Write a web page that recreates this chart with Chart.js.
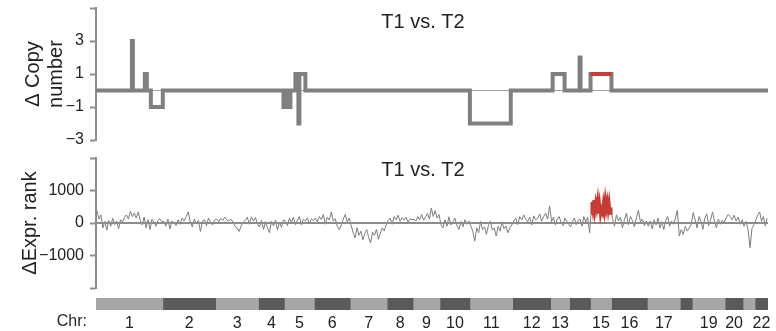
<!DOCTYPE html>
<html>
<head>
<meta charset="utf-8">
<script src="https://cdn.jsdelivr.net/npm/chart.js@4.4.1/dist/chart.umd.min.js"></script>
<style>
  body { margin: 0; background: #fff; }
  canvas { position: absolute; left: 0; }
</style>
</head>
<body>
<canvas id="cnChart" width="776" height="150" style="top:0px"></canvas>
<canvas id="exChart" width="776" height="145" style="top:150px"></canvas>
<canvas id="chrChart" width="776" height="41" style="top:290px"></canvas>
<script>
// chromosomes (x axis is gene order, sizes at the bottom)
const chrLabels = ['1','2','3','4','5','6','7','8','9','10','11','12','13','','15','16','17','','19','20','','22'];
const chrGenes = [2010,1590,1290,780,900,1080,1110,780,810,900,1290,1140,570,630,630,1080,990,360,990,540,360,390];
const chrColors = ['#a6a6a6', '#5a5a5a'];

// copy number segments: start position + value (holds until next start)
const cnStart = [0,1080,1110,1470,1530,1650,2010,5640,5700,5730,5790,5820,5850,6000,6090,6120,6300,11250,12480,13740,14100,14550,14580,14880,15510];
const cnValue = [0,3,0,1,0,-1,0,-1,0,-1,0,-1,0,1,-2,1,0,-2,0,1,0,2,0,1,0];
const cnGain = [14880, 15510]; // highlighted segment (chr15)
const cnTicks = [-3, -1, 1, 3, 5];
const cnTickLabels = ['\u22123', '\u22121', '1', '3', ''];

// expression rank difference, per chromosome
const exprChr1 = [380,120,250,-150,50,-220,80,-100,150,-50,60,-180,100,30,180,250,120,360,200,300,150,340,80,-60,180,-150,100,-200,120,20,-100,80,130,40];
const exprChr2 = [50,-100,120,-180,60,10,-80,100,-40,150,60,200,340,40,-120,120,-20,80,-260,60,100,-80,150,30,-60,90];
const exprChr3 = [120,40,150,80,180,100,60,120,30,-100,-160,-260,-90,20,80,180,-40,190,60,170,-30];
const exprChr4 = [-120,80,-200,40,-150,-300,60,-90,90,-220,20,-130,100];
const exprChr5 = [60,-80,150,20,180,-50,90,200,-60,120,60,160,-20,130,70];
const exprChr6 = [150,40,200,110,260,-40,180,90,340,60,130,-100,-200,-60,120,260,30,150];
const exprChr7 = [-80,-300,-460,-150,-380,-250,-520,-320,-200,-450,-610,-280,-380,-200,-500,-320,-150,-250,-60];
const exprChr8 = [80,150,-40,200,100,240,50,160,90,180,20,130,100];
const exprChr9 = [120,60,200,100,260,80,180,300,120,460,200,380,150,260];
const exprChr10 = [-50,-150,100,-100,190,-60,40,150,-80,-200,50,-120,100,-40,60];
const exprChr11 = [-100,-250,-560,-150,-300,50,-200,-120,-350,-80,60,-220,-150,-400,-100,-250,40,-180,-90,-300,-150,-60];
const exprChr12 = [60,150,-50,200,90,250,120,40,180,-60,220,100,150,280,60,200,300,120,520];
const exprChr13 = [40,180,-60,120,200,20,-80,150,60,-40];
const exprChr14 = [-120,50,150,-50,80,120,-100,200,30,180,-300];
const exprChr15 = [300,650,420,700,380,620,450,680,300,560,260,420,330,600,380,700,450,650,400,620,300,480];
const exprChr16 = [150,-100,250,60,180,-150,100,300,-60,200,80,-120,160,390,40,120,-80,60];
const exprChr17 = [-100,60,-180,100,-60,150,-150,40,-200,80,200,-100,60,-40,150,390,-400];
const exprChr18 = [-200,-350,-100,-250,-150,-50];
const exprChr19 = [320,100,-150,200,50,-200,150,280,-80,100,340,60,-150,120,-40,80,20];
const exprChr20 = [150,260,200,100,240,60,180,-40,100];
const exprChr21 = [-100,50,-200,-760,-150,-50];
const exprChr22 = [100,250,340,50,200,-80,150];
const exprTicks = [-2000, -1000, 0, 1000, 2000];
const exprTickLabels = ['', '\u22121000', '0', '1000', ''];

const exprByChr = [exprChr1,exprChr2,exprChr3,exprChr4,exprChr5,exprChr6,exprChr7,exprChr8,exprChr9,exprChr10,exprChr11,
  exprChr12,exprChr13,exprChr14,exprChr15,exprChr16,exprChr17,exprChr18,exprChr19,exprChr20,exprChr21,exprChr22];

const chrStart = [];
let total = 0;
chrGenes.forEach(n => { chrStart.push(total); total += n; });

const exprPoints = [];
const gainPoints = [];
exprByChr.forEach((vals, c) => {
  vals.forEach((v, j) => {
    const p = { x: chrStart[c] + (j + 0.5) * chrGenes[c] / vals.length, y: v };
    exprPoints.push(p);
    if (c === 14) gainPoints.push(p);
  });
});

const cnPoints = cnStart.map((s, i) => ({ x: s, y: cnValue[i] }));
cnPoints.push({ x: total, y: 0 });

const FONT = '"Liberation Sans", Arial, sans-serif';
const TXT = '#222';
const AXIS = '#8c8c8c';
const RED = '#c63c37';

const panelTitle = {
  id: 'panelTitle',
  afterDraw(chart, args, opts) {
    const { ctx, chartArea } = chart;
    ctx.save();
    ctx.font = '20px ' + FONT;
    ctx.fillStyle = TXT;
    ctx.textAlign = 'center';
    ctx.textBaseline = 'middle';
    ctx.fillText(opts.text, (chartArea.left + chartArea.right) / 2 + opts.dx, chartArea.top + opts.dy);
    ctx.restore();
  }
};

function yAxis(min, max, ticks, labels, title, titlePad, lh) {
  return {
    min: min, max: max,
    afterFit: s => { s.width = 96; s.paddingTop = 0; s.paddingBottom = 0; },
    afterBuildTicks: s => { s.ticks = ticks.map(v => ({ value: v })); },
    ticks: {
      callback: (v, i) => labels[i],
      font: { size: 16, family: FONT }, color: TXT, padding: 6
    },
    grid: { drawOnChartArea: false, tickLength: 6, tickColor: AXIS, tickWidth: 2 },
    border: { color: AXIS, width: 2 },
    title: {
      display: true, text: title, color: TXT,
      font: { size: 20, family: FONT, lineHeight: lh },
      padding: { top: titlePad, bottom: 0 }
    }
  };
}

const hiddenX = { type: 'linear', min: 0, max: total, display: false };

new Chart(document.getElementById('cnChart'), {
  type: 'line',
  data: {
    datasets: [
      { data: [{ x: cnGain[0], y: 1 }, { x: cnGain[1], y: 1 }], borderColor: RED, borderWidth: 4, order: 0, borderCapStyle: 'butt' },
      { data: cnPoints, stepped: true, borderColor: '#808080', borderWidth: 4, order: 1, borderJoinStyle: 'miter' },
      { data: [{ x: 0, y: 0 }, { x: total, y: 0 }], borderColor: '#a0a0a0', borderWidth: 1, order: 2 }
    ]
  },
  options: {
    responsive: false, animation: false,
    parsing: false,
    elements: { point: { radius: 0 } },
    layout: { padding: { left: 0, right: 8, top: 8, bottom: 10 } },
    scales: {
      x: hiddenX,
      y: yAxis(-3, 5, cnTicks, cnTickLabels, ['\u0394 Copy', 'number'], 22, 1.15)
    },
    plugins: {
      legend: { display: false }, tooltip: { enabled: false },
      panelTitle: { text: 'T1 vs. T2', dx: -9, dy: 14 }
    }
  },
  plugins: [panelTitle]
});

new Chart(document.getElementById('exChart'), {
  type: 'line',
  data: {
    datasets: [
      { data: gainPoints, borderColor: RED, borderWidth: 3, order: 0 },
      { data: [{ x: 0, y: 0 }, { x: total, y: 0 }], borderColor: '#8c8c8c', borderWidth: 2, order: 1 },
      { data: exprPoints, borderColor: '#7c7c7c', borderWidth: 1, order: 2 }
    ]
  },
  options: {
    responsive: false, animation: false,
    parsing: false,
    elements: { point: { radius: 0 } },
    layout: { padding: { left: 0, right: 8, top: 8, bottom: 7 } },
    scales: {
      x: hiddenX,
      y: yAxis(-2000, 2000, exprTicks, exprTickLabels, '\u0394Expr. rank', 21, 0.9)
    },
    plugins: {
      legend: { display: false }, tooltip: { enabled: false },
      panelTitle: { text: 'T1 vs. T2', dx: -9, dy: 12 }
    }
  },
  plugins: [panelTitle]
});

const chrLabelPlugin = {
  id: 'chrLabel',
  afterDraw(chart) {
    const { ctx, chartArea } = chart;
    const s = chart.scales.x;
    ctx.save();
    ctx.font = '16px ' + FONT;
    ctx.fillStyle = TXT;
    ctx.textAlign = 'right';
    ctx.textBaseline = 'middle';
    ctx.fillText('Chr:', chartArea.left - 9, s.top + 12);
    ctx.restore();
  }
};

new Chart(document.getElementById('chrChart'), {
  type: 'bar',
  data: {
    labels: ['chr'],
    datasets: chrGenes.map((n, i) => ({
      data: [[chrStart[i], chrStart[i] + n]],
      backgroundColor: chrColors[i % 2],
      borderWidth: 0
    }))
  },
  options: {
    indexAxis: 'y',
    responsive: false, animation: false,
    grouped: false,
    barPercentage: 1, categoryPercentage: 1,
    layout: { padding: { left: 96, right: 8, top: 8, bottom: 0 } },
    scales: {
      x: {
        type: 'linear', min: 0, max: total,
        afterFit: s => { s.height = 21; },
        afterBuildTicks: s => { s.ticks = chrStart.map((st, i) => ({ value: st + chrGenes[i] / 2 })); },
        ticks: {
          autoSkip: false, maxRotation: 0, padding: 4,
          callback: (v, i) => chrLabels[i],
          font: { size: 16, family: FONT }, color: TXT
        },
        grid: { display: false, drawTicks: false },
        border: { display: false }
      },
      y: { display: false }
    },
    plugins: { legend: { display: false }, tooltip: { enabled: false } }
  },
  plugins: [chrLabelPlugin]
});
</script>
</body>
</html>
